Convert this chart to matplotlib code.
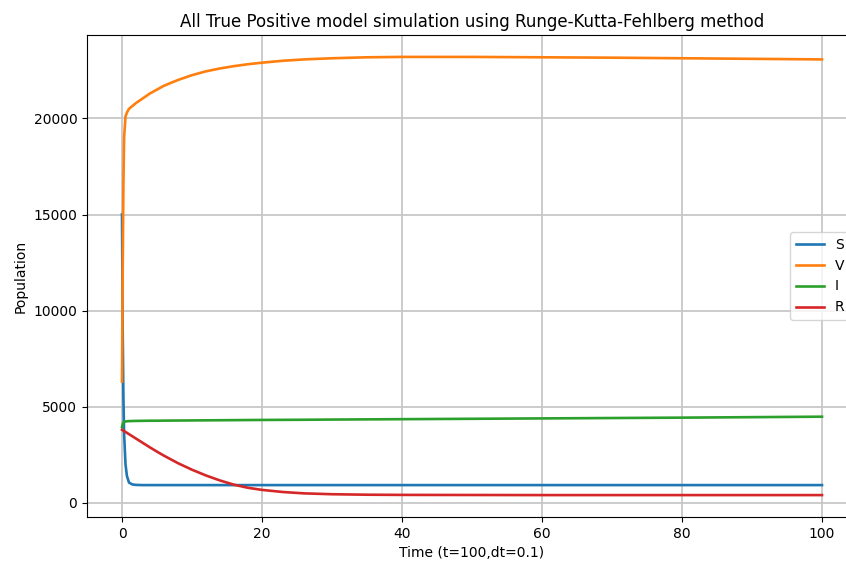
import matplotlib
matplotlib.use("Agg")
import matplotlib.pyplot as plt

# Time points
t = [0, 0.1, 0.2, 0.3, 0.5, 0.7, 1, 1.5, 2, 3, 4, 5, 6, 8, 10, 12, 14, 16, 18, 20,
     23, 26, 30, 35, 40, 50, 60, 70, 80, 90, 100]

S = [15000, 9000, 5500, 3600, 2000, 1400, 1050, 950, 930, 920, 920, 920, 920, 920,
     920, 920, 920, 920, 920, 920, 920, 920, 920, 920, 920, 920, 920, 920, 920, 920, 920]
V = [6300, 12000, 16500, 19000, 20100, 20300, 20500, 20650, 20800, 21050, 21300, 21500,
     21700, 22000, 22250, 22450, 22600, 22720, 22820, 22900, 23000, 23070, 23130, 23180,
     23200, 23200, 23180, 23160, 23130, 23100, 23070]
I = [3950, 4100, 4180, 4210, 4230, 4240, 4250, 4255, 4260, 4265, 4270, 4270, 4275, 4280,
     4285, 4290, 4295, 4300, 4305, 4310, 4315, 4320, 4330, 4340, 4350, 4370, 4390, 4410,
     4430, 4455, 4480]
R = [3800, 3775, 3750, 3730, 3685, 3640, 3570, 3455, 3340, 3110, 2880, 2660, 2450, 2060,
     1720, 1420, 1160, 940, 780, 670, 560, 490, 445, 420, 410, 405, 400, 400, 400, 400, 400]

fig = plt.figure(figsize=(8.46, 5.63), dpi=100)
# axes runs a bit past the right edge, like the cropped original
ax = fig.add_axes([87 / 846, 46 / 563, 770 / 846, 482 / 563])

ax.plot(t, S, label='S', lw=1.9)
ax.plot(t, V, label='V', lw=1.9)
ax.plot(t, I, label='I', lw=1.9)
ax.plot(t, R, label='R', lw=1.9)

ax.set_title('All True Positive model simulation using Runge-Kutta-Fehlberg method')
ax.set_xlabel('Time (t=100,dt=0.1)')
ax.set_ylabel('Population')
ax.grid(True, color='#c4c4c4', lw=1.2)
ax.legend(loc='center right')

fig.savefig('out.png', dpi=100)
